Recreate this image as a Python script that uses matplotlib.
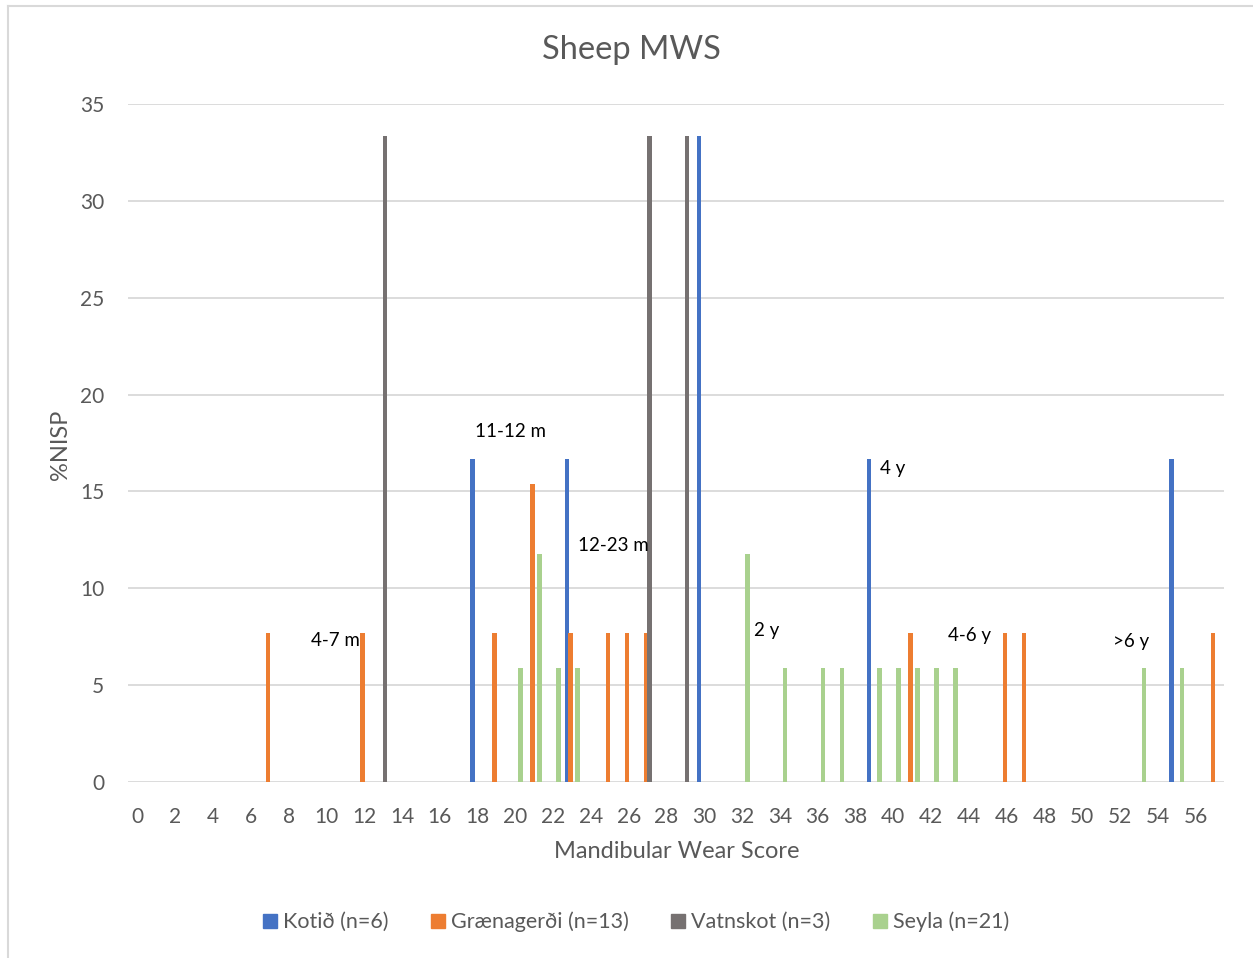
import numpy as np
import matplotlib.pyplot as plt
from matplotlib.lines import Line2D

plt.rcParams['font.family'] = ['Lato', 'DejaVu Sans']

# Mandibular wear score categories 0..57
scores = np.arange(0, 58)

# %NISP per wear score for each site (only non-zero scores listed)
kotid_scores = [18, 23, 30, 39, 55]
kotid_vals = [16.67, 16.67, 33.33, 16.67, 16.67]

graen_scores = [7, 12, 19, 21, 23, 25, 26, 27, 41, 46, 47, 57]
graen_vals = [7.69, 7.69, 7.69, 15.38, 7.69, 7.69, 7.69, 7.69, 7.69, 7.69, 7.69, 7.69]

vatn_scores = [13, 27, 29]
vatn_vals = [33.33, 33.33, 33.33]

seyla_scores = [20, 21, 22, 23, 32, 34, 36, 37, 39, 40, 41, 42, 43, 53, 55]
seyla_vals = [5.88, 11.76, 5.88, 5.88, 11.76, 5.88, 5.88, 5.88, 5.88, 5.88,
              5.88, 5.88, 5.88, 5.88, 5.88]

series = [
    ('Kotið (n=6)', kotid_scores, kotid_vals, '#4472C4'),
    ('Grænagerði (n=13)', graen_scores, graen_vals, '#ED7D31'),
    ('Vatnskot (n=3)', vatn_scores, vatn_vals, '#767171'),
    ('Seyla (n=21)', seyla_scores, seyla_vals, '#A9D18E'),
]

# Age-stage annotations (text, x, y)
age_labels = ['4-7 m', '11-12 m', '12-23 m', '2 y', '4 y', '4-6 y', '>6 y']
age_x = [9.2, 17.85, 23.3, 32.65, 39.3, 42.9, 51.6]
age_y = [7.3, 18.1, 12.2, 7.8, 16.2, 7.55, 7.25]

fig = plt.figure(figsize=(12.53, 9.58), dpi=100)
ax = fig.add_axes([128 / 1253, 1 - 782 / 958, (1224 - 128) / 1253, (782 - 104) / 958])

step = 0.185
width = 0.24
for i, (name, xs, vals, color) in enumerate(series):
    offset = (i - 1.5) * step
    ax.bar(np.array(xs) + offset, vals, width=width, color=color, label=name, zorder=3)

for txt, x, y in zip(age_labels, age_x, age_y):
    ax.text(x, y, txt, fontsize=13.5, color='black', ha='left', va='center', zorder=4)

ax.set_xlim(-0.5, 57.5)
ax.set_ylim(0, 35)
ax.set_yticks(np.arange(0, 36, 5))
ax.set_xticks(scores[::2])
ax.set_xticklabels([str(s) for s in scores[::2]])
ax.grid(axis='y', color='#D9D9D9', linewidth=1.3, zorder=0)
ax.tick_params(axis='both', length=0, labelsize=15, labelcolor='#595959')
ax.tick_params(axis='x', pad=18)
ax.tick_params(axis='y', pad=17)
for sp in ax.spines.values():
    sp.set_visible(False)

fig.text(631 / 1253, 1 - 50 / 958, 'Sheep MWS', fontsize=23.5, color='#595959',
         ha='center', va='center')
fig.text(677 / 1253, 1 - 852 / 958, 'Mandibular Wear Score', fontsize=17,
         color='#595959', ha='center', va='center')
fig.text(60 / 1253, 1 - 445 / 958, '%NISP', fontsize=17, color='#595959',
         ha='center', va='center', rotation=90)

handles = [plt.Rectangle((0, 0), 1, 1, color=c) for _, _, _, c in series]
fig.legend(handles, [s[0] for s in series], loc='center',
           bbox_to_anchor=(636 / 1253, 1 - 922 / 958), ncol=4, frameon=False,
           fontsize=15.5, labelcolor='#595959', handlelength=0.65, handleheight=0.65,
           handletextpad=0.25, columnspacing=2.0)

# Outer chart frame
fig.add_artist(Line2D([8 / 1253, 1], [1 - 6 / 958, 1 - 6 / 958], color='#D9D9D9', lw=1.5))
fig.add_artist(Line2D([8 / 1253, 8 / 1253], [0, 1 - 6 / 958], color='#D9D9D9', lw=1.5))

fig.savefig('out.png', dpi=100, facecolor='white')
